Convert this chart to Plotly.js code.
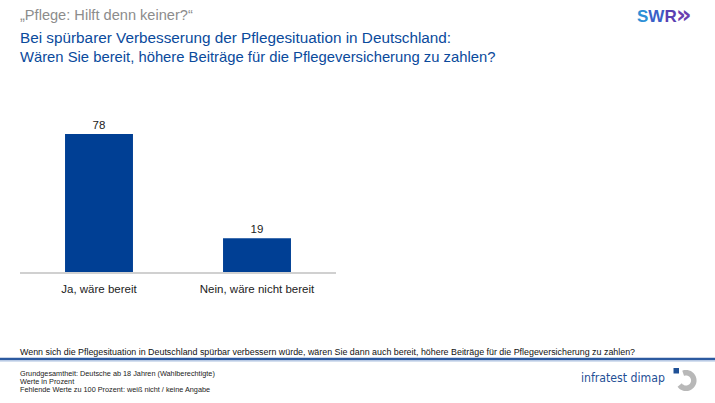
<!DOCTYPE html>
<html>
<head>
<meta charset="utf-8">
<script src="https://cdn.plot.ly/plotly-3.0.1.min.js"></script>
<style>
  html, body { margin: 0; padding: 0; background: #fff; }
  #chart { width: 715px; height: 403px; }
</style>
</head>
<body>
<div id="chart"></div>
<script>
// Survey answers and shares in percent
const categories = ["Ja, wäre bereit", "Nein, wäre nicht bereit"];
const values = [78, 19];

const W = 715, H = 403;
const M = { l: 20, r: 379, t: 95, b: 131 };
const PW = W - M.l - M.r, PH = H - M.t - M.b;
// page pixels -> paper coordinates of the plot area
const px = x => (x - M.l) / PW;
const py = y => (H - M.b - y) / PH;

const FONT = "Liberation Sans, Arial, sans-serif";
const BLUE = "#0a4a9c";

const trace = {
  type: "bar",
  x: categories,
  y: values,
  width: 0.43,
  marker: { color: "#003f94", line: { width: 0 } },
  text: values.map(String),
  textposition: "outside",
  cliponaxis: false,
  textfont: { family: FONT, size: 11.5, color: "#222" },
  hoverinfo: "skip"
};

const annotations = [
  { text: "„Pflege: Hilft denn keiner?“", x: px(19), y: py(15), xanchor: "left", yanchor: "middle",
    font: { family: FONT, size: 14.6, color: "#8c8c8c" } },
  { text: "Bei spürbarer Verbesserung der Pflegesituation in Deutschland:", x: px(19), y: py(38), xanchor: "left", yanchor: "middle",
    font: { family: FONT, size: 15.3, color: BLUE } },
  { text: "Wären Sie bereit, höhere Beiträge für die Pflegeversicherung zu zahlen?", x: px(19), y: py(57), xanchor: "left", yanchor: "middle",
    font: { family: FONT, size: 14.8, color: BLUE } },
  { text: "<b><span style='color:#2d8fd6'>S</span><span style='color:#3a5fc8'>W</span><span style='color:#5a3fb2'>R</span></b>",
    x: px(636), y: py(16), xanchor: "left", yanchor: "middle",
    font: { family: FONT, size: 17, color: "#3a62c4" } },
  { text: "<b>»</b>", x: px(675), y: py(15), xanchor: "left", yanchor: "middle",
    font: { family: "DejaVu Sans, sans-serif", size: 24, color: "#6a3fb0" } },
  { text: "Wenn sich die Pflegesituation in Deutschland spürbar verbessern würde, wären Sie dann auch bereit, höhere Beiträge für die Pflegeversicherung zu zahlen?",
    x: px(19), y: py(352), xanchor: "left", yanchor: "middle",
    font: { family: FONT, size: 8.9, color: "#111" } },
  { text: "Grundgesamtheit: Deutsche ab 18 Jahren (Wahlberechtigte)", x: px(19), y: py(373), xanchor: "left", yanchor: "middle",
    font: { family: FONT, size: 7.3, color: "#222" } },
  { text: "Werte in Prozent", x: px(19), y: py(381), xanchor: "left", yanchor: "middle",
    font: { family: FONT, size: 7.3, color: "#222" } },
  { text: "Fehlende Werte zu 100 Prozent: weiß nicht / keine Angabe", x: px(19), y: py(389), xanchor: "left", yanchor: "middle",
    font: { family: FONT, size: 7.3, color: "#222" } },
  { text: "infratest dimap", x: px(666), y: py(378), xanchor: "right", yanchor: "middle",
    font: { family: "DejaVu Sans Condensed, DejaVu Sans, sans-serif", size: 12.2, color: "#1f5096" } }
].map(a => Object.assign({ xref: "paper", yref: "paper", showarrow: false, borderpad: 0 }, a));

// open ring of the dimap mark, as a polyline path
function ringPath(cx, cy, r, a0, a1, n) {
  let d = "";
  for (let i = 0; i <= n; i++) {
    const a = a0 + (a1 - a0) * i / n;
    const x = cx + r * Math.cos(a), y = cy + r * Math.sin(a);
    d += (i ? " L " : "M ") + px(x) + " " + py(y);
  }
  return d;
}

const shapes = [
  // footer rule
  { type: "line", x0: px(0), x1: px(W), y0: py(359), y1: py(359),
    line: { color: "#2c5aa0", width: 2.5 } },
  { type: "line", x0: px(0), x1: px(W), y0: py(361), y1: py(361),
    line: { color: "#a9bfe0", width: 1 } },
  // dimap mark: blue square and grey open ring
  { type: "rect", x0: px(673.5), x1: px(679), y0: py(373.5), y1: py(368),
    fillcolor: "#1f5096", line: { width: 0 } },
  { type: "path", path: ringPath(686, 380.5, 7.8, -Math.PI * 0.62, Math.PI * 0.8, 40),
    line: { color: "#b8b8b8", width: 5.5 } }
].map(s => Object.assign({ xref: "paper", yref: "paper" }, s));

const layout = {
  width: W, height: H,
  margin: { l: M.l, r: M.r, t: M.t, b: M.b, pad: 0 },
  paper_bgcolor: "#fff",
  plot_bgcolor: "#fff",
  showlegend: false,
  xaxis: {
    type: "category",
    range: [-0.5, 1.5],
    showline: true, linecolor: "#d0d0d0", linewidth: 1.5,
    showgrid: false, zeroline: false, ticks: "",
    tickfont: { family: FONT, size: 11.5, color: "#222" },
    ticklabelstandoff: 6
  },
  yaxis: {
    range: [0, 100],
    visible: false,
    showgrid: false, zeroline: false
  },
  annotations: annotations,
  shapes: shapes
};

Plotly.newPlot("chart", [trace], layout, { staticPlot: true, displayModeBar: false });
</script>
</body>
</html>
